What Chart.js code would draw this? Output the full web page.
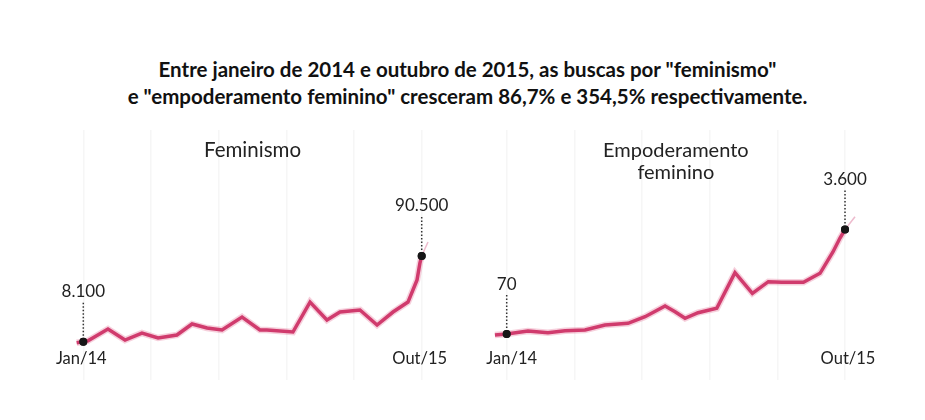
<!DOCTYPE html>
<html><head><meta charset="utf-8">
<script src="https://cdn.jsdelivr.net/npm/chart.js@4.4.0/dist/chart.umd.min.js"></script>
<style>
html,body{margin:0;padding:0;background:#fff;}
#wrap{position:relative;width:925px;height:420px;overflow:hidden;background:#fff;}
#title{position:absolute;left:0;top:56px;width:935px;text-align:center;font:700 20.5px Lato, sans-serif;line-height:27px;color:#111;}
canvas{position:absolute;}
</style></head><body>
<div id="wrap">
<div id="title">Entre janeiro de 2014 e outubro de 2015, as buscas por "feminismo"<br>e "empoderamento feminino" cresceram 86,7% e 354,5% respectivamente.</div>
<canvas id="c1" width="420" height="250" style="left:40px;top:130px"></canvas>
<canvas id="c2" width="435" height="250" style="left:465px;top:130px"></canvas>
</div>
<script>
// months since Jan/14 (0 = Jan/14, 21 = Out/15)
const femMonths = [-0.41, 0, 0.29, 1.53, 2.59, 3.64, 4.64, 5.81, 6.75, 7.68, 8.61, 9.85, 10.96, 11.39, 13.01, 14.07, 15.12, 15.93, 17.17, 18.23, 19.22, 20.15, 20.71, 20.89, 21, 21.39];
const femValues = [7100, 8100, 9000, 20300, 9700, 16400, 11600, 14500, 25100, 21200, 19300, 31800, 19300, 19300, 17400, 46200, 28900, 36600, 38600, 24100, 36600, 46200, 67400, 83700, 90500, 104000];
const empMonths = [-0.73, 0, 1.32, 2.56, 3.62, 4.86, 6.1, 7.53, 8.59, 9.83, 10.45, 11.07, 11.88, 13.04, 14.17, 15.25, 16.24, 17.07, 18.42, 19.45, 20.25, 20.69, 21, 21.62];
const empValues = [37, 70, 172, 115, 182, 206, 375, 432, 655, 1017, 824, 601, 791, 939, 2142, 1446, 1838, 1818, 1818, 2122, 2841, 3314, 3600, 4034];
const gridMonths = [0, 4.2, 8.4, 12.6, 16.8, 21];
const startMonth = 0, endMonth = 21;
const startTick = 'Jan/14', endTick = 'Out/15';
const femTitle = ['Feminismo'];
const empTitle = ['Empoderamento', 'feminino'];
const femLabels = ['8.100', '90.500'];
const empLabels = ['70', '3.600'];

const LINE = '#c92a60';
const FONT = 'Lato, sans-serif';

function makeChart(id, months, values, xr, yr, titleLines, titleY, titleSize, valueLabels, tickOffsets){
  const pts = months.map((m,i)=>({x:m, y:values[i]}));
  const isMark = m => m === startMonth || m === endMonth;
  const pastEnd = c => c.p0.parsed.x >= endMonth;
  const plugin = {
    id: 'ann_'+id,
    afterDatasetsDraw(chart){
      const {ctx, scales:{x, y}} = chart;
      ctx.save();
      ctx.fillStyle = '#222';
      ctx.textAlign = 'center';
      ctx.textBaseline = 'middle';
      ctx.font = '400 ' + titleSize + 'px ' + FONT;
      const cx = x.getPixelForValue((startMonth+endMonth)/2);
      titleLines.forEach((t,i)=>ctx.fillText(t, cx, titleY + i*22));
      [startMonth, endMonth].forEach((m, k)=>{
        const idx = months.indexOf(m);
        const px = x.getPixelForValue(m), py = y.getPixelForValue(values[idx]);
        ctx.strokeStyle = '#333';
        ctx.lineWidth = 1.5;
        ctx.setLineDash([1.5, 2]);
        ctx.beginPath(); ctx.moveTo(px, py-39); ctx.lineTo(px, py-4); ctx.stroke();
        ctx.setLineDash([]);
        ctx.font = '400 17px ' + FONT;
        ctx.fillStyle = '#222';
        ctx.fillText(valueLabels[k], px, py-50);
        ctx.fillStyle = '#161616';
        ctx.beginPath(); ctx.arc(px, py, 4, 0, Math.PI*2); ctx.fill();
        ctx.fillStyle = '#222';
        ctx.font = '400 16.5px ' + FONT;
        ctx.fillText(k===0?startTick:endTick, px + tickOffsets[k], 229);
      });
      ctx.restore();
    }
  };
  return new Chart(document.getElementById(id), {
    type: 'line',
    data: { datasets: [
      { data: pts, borderColor: 'rgba(225,100,140,0.3)', borderWidth: 6.5, pointRadius: 0, tension: 0,
        segment: { borderColor: c => pastEnd(c) ? 'rgba(0,0,0,0)' : undefined } },
      { data: pts, borderColor: LINE, borderWidth: 3.5, tension: 0,
        pointRadius: pts.map(p => isMark(p.x) ? 4 : 0), pointBackgroundColor: '#161616', pointBorderWidth: 0,
        segment: { borderColor: c => pastEnd(c) ? 'rgba(225,140,170,0.6)' : undefined,
                   borderWidth: c => pastEnd(c) ? 1.5 : undefined } }
    ]},
    options: {
      responsive: false, animation: false, devicePixelRatio: 1,
      layout: { padding: 0 },
      plugins: { legend: {display:false}, tooltip: {enabled:false}, title: {display:false} },
      scales: {
        x: { type: 'linear', min: xr[0], max: xr[1],
             afterBuildTicks: s => { s.ticks = gridMonths.map(v=>({value:v})); },
             ticks: { display: false }, border: { display: false },
             grid: { color: '#f6f6f6', lineWidth: 1.5, drawTicks: false } },
        y: { display: false, min: yr[0], max: yr[1] }
      }
    },
    plugins: [plugin]
  });
}

makeChart('c1', femMonths, femValues, [-2.687, 23.377], [-28750, 211630], femTitle, 20, 20.5, femLabels, [-2, -2]);
makeChart('c2', empMonths, empValues, [-2.588, 24.413], [-1483, 6963], empTitle, 21, 20, empLabels, [5, 3]);
</script>
</body></html>
